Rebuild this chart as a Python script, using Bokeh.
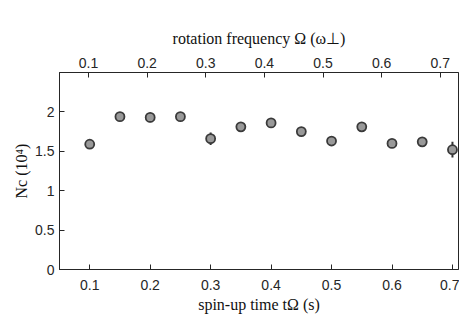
from bokeh.plotting import figure
from bokeh.models import Range1d, LinearAxis, FixedTicker
from bokeh.embed import file_html
from bokeh.resources import INLINE

spin_time = [0.1, 0.15, 0.2, 0.25, 0.3, 0.35, 0.4, 0.45, 0.5, 0.55, 0.6, 0.65, 0.7]
n_c = [1.59, 1.94, 1.93, 1.94, 1.66, 1.81, 1.86, 1.75, 1.63, 1.81, 1.60, 1.62, 1.52]
n_err = [0.02, 0.05, 0.06, 0.03, 0.08, 0.04, 0.05, 0.03, 0.04, 0.03, 0.03, 0.06, 0.10]
bottom_ticks = [0.1, 0.2, 0.3, 0.4, 0.5, 0.6, 0.7]
top_ticks = [0.1, 0.2, 0.3, 0.4, 0.5, 0.6, 0.7]
y_ticks = [0, 0.5, 1, 1.5, 2]

AX = "#262626"

p = figure(frame_width=399, frame_height=197, output_backend="svg", toolbar_location=None,
           x_range=Range1d(0.05, 0.71), y_range=Range1d(0, 2.5),
           x_axis_location="below")
p.min_border_left = 59
p.min_border_right = 1
p.min_border_top = 72
p.min_border_bottom = 48
p.background_fill_color = "white"
p.border_fill_color = "white"
p.grid.visible = False
p.outline_line_color = AX
p.outline_line_width = 1

p.extra_x_ranges = {"top": Range1d(0.0506, 0.731)}
top_axis = LinearAxis(x_range_name="top")
p.add_layout(top_axis, "above")
bottom_axis = p.below[0]
left_axis = p.left[0]

for ax in [bottom_axis, left_axis, top_axis]:
    ax.major_tick_in = 5
    ax.major_tick_out = 0
    ax.minor_tick_line_color = None
    ax.axis_line_color = AX
    ax.major_tick_line_color = AX
    ax.major_label_text_font = "Liberation Sans"
    ax.major_label_text_font_size = "14px"
    ax.major_label_text_color = AX
    ax.axis_label_text_font = "Liberation Serif"
    ax.axis_label_text_font_size = "16px"
    ax.axis_label_text_font_style = "normal"
    ax.axis_label_text_color = "#111111"

bottom_axis.ticker = FixedTicker(ticks=bottom_ticks)
top_axis.ticker = FixedTicker(ticks=top_ticks)
left_axis.ticker = FixedTicker(ticks=y_ticks)
left_axis.major_label_overrides = {0: "0", 0.5: "0.5", 1: "1", 1.5: "1.5", 2: "2"}

bottom_axis.axis_label = "spin-up time tΩ (s)"
top_axis.axis_label = "rotation frequency Ω (ω⊥)"
left_axis.axis_label = "Nc (10⁴)"
bottom_axis.major_label_standoff = 10
top_axis.major_label_standoff = 5
left_axis.major_label_standoff = 5
bottom_axis.axis_label_standoff = 3
top_axis.axis_label_standoff = 8
left_axis.axis_label_standoff = 2

lo = [v - e for v, e in zip(n_c, n_err)]
hi = [v + e for v, e in zip(n_c, n_err)]
p.segment(x0=spin_time, y0=lo, x1=spin_time, y1=hi, line_color="#333333", line_width=2)
p.scatter(spin_time, n_c, size=9, fill_color="#999999", line_color="#3a3a3a", line_width=1.8)

open("out.html", "w").write(file_html(p, INLINE))
